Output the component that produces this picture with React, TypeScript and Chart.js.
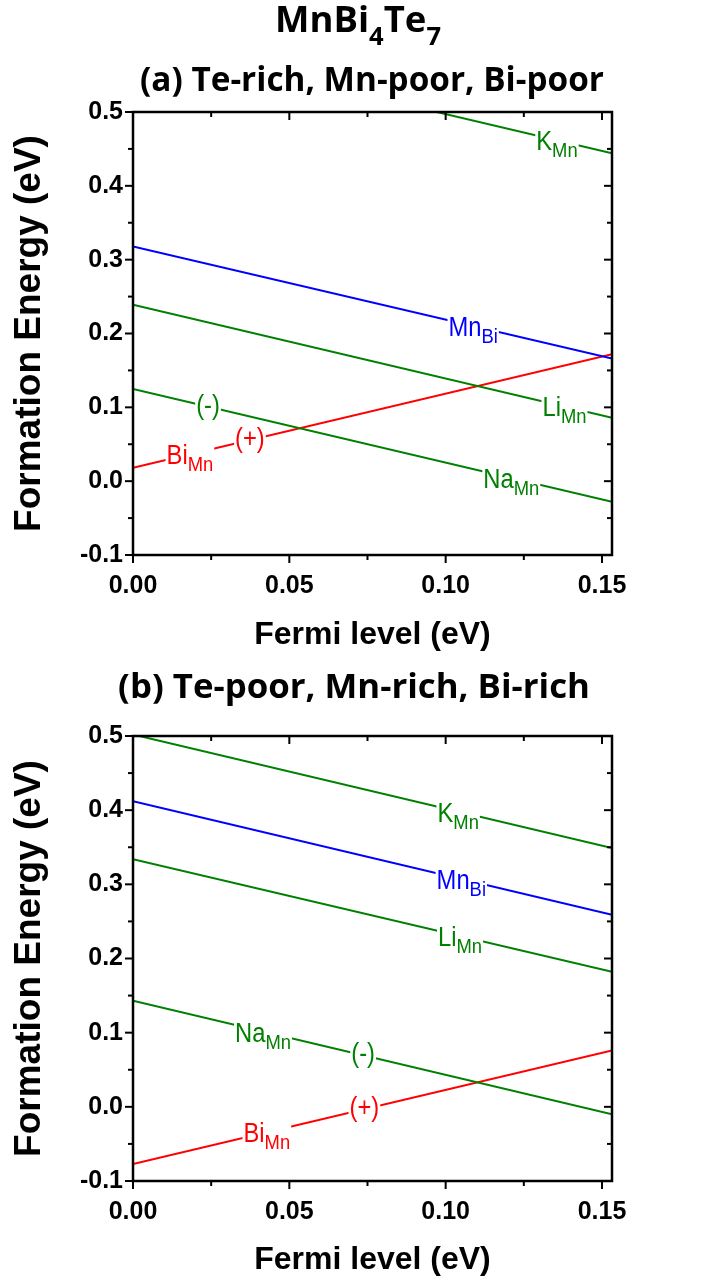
import React, { useEffect, useRef } from "react";
import { Chart, registerables } from "chart.js";
Chart.register(...registerables);

// ---------- data ----------
const X_MAX = 0.1532;
const xEnds = [0, X_MAX];
const xTicks = [0, 0.05, 0.1, 0.15];
const xMinorTicks = [0.025, 0.075, 0.125];
const yTicks = [-0.1, 0, 0.1, 0.2, 0.3, 0.4, 0.5];
const yMinorTicks = [-0.05, 0.05, 0.15, 0.25, 0.35, 0.45];

const defectNames = ["K_Mn", "Mn_Bi", "Li_Mn", "Na_Mn", "Bi_Mn"];
const defectMain = ["K", "Mn", "Li", "Na", "Bi"];
const defectSub = ["Mn", "Bi", "Mn", "Mn", "Mn"];
const defectColors = ["#008000", "#0000ff", "#008000", "#008000", "#ff0000"];

// formation energy at Fermi level 0 and at X_MAX
const panelA_K = [0.597, 0.444];
const panelA_MnBi = [0.318, 0.166];
const panelA_Li = [0.239, 0.086];
const panelA_Na = [0.125, -0.028];
const panelA_Bi = [0.018, 0.172];

const panelB_K = [0.502, 0.349];
const panelB_MnBi = [0.412, 0.259];
const panelB_Li = [0.334, 0.182];
const panelB_Na = [0.143, -0.010];
const panelB_Bi = [-0.077, 0.076];

// label positions (Fermi level) along each line
const labelXA = [0.1356, 0.1088, 0.138, 0.121, 0.0182];
const labelXB = [0.104, 0.105, 0.1046, 0.0416, 0.0428];
// charge labels: [series index, fermi level, text]
const chargeA: [number, number, string][] = [[3, 0.024, "(-)"], [4, 0.0374, "(+)"]];
const chargeB: [number, number, string][] = [[3, 0.0736, "(-)"], [4, 0.074, "(+)"]];

const panelAValues = [panelA_K, panelA_MnBi, panelA_Li, panelA_Na, panelA_Bi];
const panelBValues = [panelB_K, panelB_MnBi, panelB_Li, panelB_Na, panelB_Bi];

const LABEL_FONT = '"Liberation Sans", Arial, sans-serif';
const TITLE_FONT = '"Open Sans", Lato, sans-serif';

type Part = { t: string; sub?: boolean };
type TitleSpec = { parts: Part[]; cx: number; base: number; width: number; subDy: number };

function drawRich(ctx: CanvasRenderingContext2D, spec: TitleSpec) {
  const { parts, cx, base, width, subDy } = spec;
  ctx.save();
  ctx.fillStyle = "#000";
  ctx.textBaseline = "alphabetic";
  ctx.textAlign = "left";
  const measure = (size: number) =>
    parts.map((p) => {
      ctx.font = `bold ${p.sub ? size * 0.7 : size}px ${TITLE_FONT}`;
      return ctx.measureText(p.t).width;
    });
  const w0 = measure(30).reduce((a, b) => a + b, 0);
  const size = (30 * width) / w0;
  const widths = measure(size);
  const total = widths.reduce((a, b) => a + b, 0);
  let x = cx - total / 2;
  parts.forEach((p, i) => {
    ctx.font = `bold ${p.sub ? size * 0.7 : size}px ${TITLE_FONT}`;
    ctx.fillText(p.t, x, base + (p.sub ? subDy : 0));
    x += widths[i];
  });
  ctx.restore();
}

function lineLabel(ctx: CanvasRenderingContext2D, cx: number, cy: number, main: string, sub: string, color: string, paren: boolean) {
  const mainSize = 27;
  const subSize = 20;
  const sxMain = 0.88;
  const sxSub = 0.92;
  ctx.save();
  ctx.font = `${mainSize}px ${LABEL_FONT}`;
  const wm = ctx.measureText(main).width * sxMain;
  ctx.font = `${subSize}px ${LABEL_FONT}`;
  const ws = sub ? ctx.measureText(sub).width * sxSub : 0;
  const total = wm + ws;
  const left = cx - total / 2;
  ctx.fillStyle = "#fff";
  ctx.fillRect(left - 1, cy - 13, total + 2, 26);
  ctx.fillStyle = color;
  ctx.textBaseline = "alphabetic";
  ctx.textAlign = "left";
  const base = paren ? cy + 7 : cy + 10;
  ctx.save();
  ctx.translate(left, base);
  ctx.scale(sxMain, 1);
  ctx.font = `${mainSize}px ${LABEL_FONT}`;
  ctx.fillText(main, 0, 0);
  ctx.restore();
  if (sub) {
    ctx.save();
    ctx.translate(left + wm, base + 7);
    ctx.scale(sxSub, 1);
    ctx.font = `${subSize}px ${LABEL_FONT}`;
    ctx.fillText(sub, 0, 0);
    ctx.restore();
  }
  ctx.restore();
}

function makeChart(
  canvas: HTMLCanvasElement,
  values: number[][],
  labelX: number[],
  charges: [number, number, string][],
  titles: TitleSpec[],
  canvasH: number,
  chartBottom: number
) {
  const datasets = values.map((v, i) => ({
    label: defectNames[i],
    data: xEnds.map((x, j) => ({ x, y: v[j] })),
    borderColor: defectColors[i],
    backgroundColor: defectColors[i],
    borderWidth: 2,
    pointRadius: 0,
    fill: false,
    tension: 0,
  }));

  const valAt = (i: number, x: number) => values[i][0] + ((values[i][1] - values[i][0]) * (x - xEnds[0])) / (xEnds[1] - xEnds[0]);

  const decor = {
    id: "decor",
    afterDatasetsDraw(chart: any) {
      const ctx = chart.ctx as CanvasRenderingContext2D;
      const xs = chart.scales.x;
      const ys = chart.scales.y;
      values.forEach((_, i) => {
        const lx = labelX[i];
        lineLabel(ctx, xs.getPixelForValue(lx), ys.getPixelForValue(valAt(i, lx)), defectMain[i], defectSub[i], defectColors[i], false);
      });
      charges.forEach(([i, lx, t]) => {
        lineLabel(ctx, xs.getPixelForValue(lx), ys.getPixelForValue(valAt(i, lx)), t, "", defectColors[i], true);
      });
    },
    afterDraw(chart: any) {
      const ctx = chart.ctx as CanvasRenderingContext2D;
      const { left, right, top, bottom } = chart.chartArea;
      const xs = chart.scales.x;
      const ys = chart.scales.y;
      ctx.save();
      ctx.strokeStyle = "#000";
      ctx.lineWidth = 2.5;
      ctx.strokeRect(left, top, right - left, bottom - top);
      ctx.lineWidth = 2;
      const tick = (x1: number, y1: number, x2: number, y2: number) => {
        ctx.beginPath();
        ctx.moveTo(x1, y1);
        ctx.lineTo(x2, y2);
        ctx.stroke();
      };
      xTicks.forEach((v) => {
        const p = xs.getPixelForValue(v);
        tick(p, bottom, p, bottom + 8);
        tick(p, top, p, top + 8);
      });
      xMinorTicks.forEach((v) => {
        const p = xs.getPixelForValue(v);
        tick(p, bottom, p, bottom + 5);
        tick(p, top, p, top + 5);
      });
      yTicks.forEach((v) => {
        const p = ys.getPixelForValue(v);
        tick(left - 8, p, left, p);
        tick(right - 8, p, right, p);
      });
      yMinorTicks.forEach((v) => {
        const p = ys.getPixelForValue(v);
        tick(left - 5, p, left, p);
        tick(right - 5, p, right, p);
      });
      ctx.restore();
      titles.forEach((t) => drawRich(ctx, t));
    },
  };

  const axisFont = { family: LABEL_FONT, size: 25, weight: "bold" as const };

  return new Chart(canvas, {
    type: "line",
    data: { datasets },
    options: {
      animation: false,
      responsive: false,
      maintainAspectRatio: false,
      events: [],
      layout: { padding: { left: 0, right: 97, top: 112, bottom: 0 } },
      plugins: { legend: { display: false }, tooltip: { enabled: false }, title: { display: false } },
      scales: {
        x: {
          type: "linear",
          min: 0,
          max: X_MAX,
          grid: { display: false, drawTicks: false },
          border: { display: false },
          afterBuildTicks: (s: any) => {
            s.ticks = xTicks.map((value) => ({ value }));
          },
          afterFit: (s: any) => {
            s.height = canvasH - chartBottom;
          },
          ticks: {
            autoSkip: false,
            maxRotation: 0,
            padding: 16,
            color: "#000",
            font: axisFont,
            callback: (v: any) => Number(v).toFixed(2),
          },
          title: {
            display: true,
            text: "Fermi level (eV)",
            color: "#000",
            font: { family: LABEL_FONT, size: 32, weight: "bold" },
            padding: { top: 0, bottom: 6 },
          },
        },
        y: {
          type: "linear",
          min: -0.1,
          max: 0.5,
          grid: { display: false, drawTicks: false },
          border: { display: false },
          afterBuildTicks: (s: any) => {
            s.ticks = yTicks.map((value) => ({ value }));
          },
          afterFit: (s: any) => {
            s.width = 133;
          },
          ticks: {
            autoSkip: false,
            padding: 10,
            color: "#000",
            font: axisFont,
            callback: (v: any) => Number(v).toFixed(1),
          },
          title: {
            display: true,
            text: "Formation Energy (eV)",
            color: "#000",
            font: { family: LABEL_FONT, size: 37, weight: "bold" },
            padding: { top: 8, bottom: 0 },
          },
        },
      },
    },
    plugins: [decor],
  } as any);
}

export default function App() {
  const refA = useRef<HTMLCanvasElement>(null);
  const refB = useRef<HTMLCanvasElement>(null);
  useEffect(() => {
    const a = makeChart(
      refA.current!,
      panelAValues,
      labelXA,
      chargeA,
      [
        { parts: [{ t: "MnBi" }, { t: "4", sub: true }, { t: "Te" }, { t: "7", sub: true }], cx: 358, base: 32, width: 166, subDy: 13 },
        { parts: [{ t: "(a) Te-rich, Mn-poor, Bi-poor" }], cx: 372, base: 91, width: 464, subDy: 0 },
      ],
      660,
      555
    );
    const b = makeChart(
      refB.current!,
      panelBValues,
      labelXB,
      chargeB,
      [{ parts: [{ t: "(b) Te-poor, Mn-rich, Bi-rich" }], cx: 354, base: 74, width: 472, subDy: 0 }],
      661,
      557
    );
    return () => {
      a.destroy();
      b.destroy();
    };
  }, []);
  return (
    <div style={{ position: "absolute", left: 0, top: 0, width: 709, height: 1285, background: "#fff" }}>
      <canvas ref={refA} width={709} height={660} style={{ position: "absolute", left: 0, top: 0, width: 709, height: 660 }} />
      <canvas ref={refB} width={709} height={661} style={{ position: "absolute", left: 0, top: 624, width: 709, height: 661 }} />
    </div>
  );
}
